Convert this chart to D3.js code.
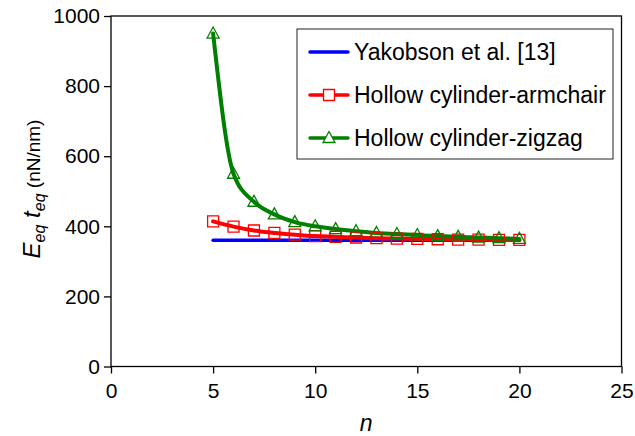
<!DOCTYPE html>
<html>
<head>
<meta charset="utf-8">
<script src="https://cdn.jsdelivr.net/npm/d3@7"></script>
<style>
  body { margin: 0; background: #fff; }
  svg text { font-family: "Liberation Sans", Arial, sans-serif; fill: #000; }
</style>
</head>
<body>
<svg id="chart" width="635" height="436"></svg>
<script>
const nValues = [5, 6, 7, 8, 9, 10, 11, 12, 13, 14, 15, 16, 17, 18, 19, 20];
const yakobson = [360, 360, 360, 360, 360, 360, 360, 360, 360, 360, 360, 360, 360, 360, 360, 360];
const armchair = [414, 399, 388, 381, 376, 372, 370, 368, 366, 365, 364, 363, 362, 362, 361, 361];
const zigzag = [950, 550, 470, 434, 412, 400, 392, 386, 381, 378, 375, 372, 370, 368, 366, 364];
const xTicks = [0, 5, 10, 15, 20, 25];
const yTicks = [0, 200, 400, 600, 800, 1000];
const legendLabels = ["Yakobson et al. [13]", "Hollow cylinder-armchair", "Hollow cylinder-zigzag"];

const svg = d3.select("#chart");
const m = { left: 111, top: 16, right: 621.5, bottom: 366.5 };
const x = d3.scaleLinear().domain([0, 25]).range([m.left, m.right]);
const y = d3.scaleLinear().domain([0, 1000]).range([m.bottom, m.top]);

// frame
svg.append("rect").attr("x", m.left).attr("y", m.top)
    .attr("width", m.right - m.left).attr("height", m.bottom - m.top)
    .attr("fill", "none").attr("stroke", "#000").attr("stroke-width", 1.3);

const xAxis = svg.append("g").attr("transform", `translate(0,${m.bottom})`)
    .call(d3.axisBottom(x).tickValues(xTicks).tickSize(7).tickPadding(10).tickFormat(d3.format("d")));
const yAxis = svg.append("g").attr("transform", `translate(${m.left},0)`)
    .call(d3.axisLeft(y).tickValues(yTicks).tickSize(7).tickPadding(4).tickFormat(d3.format("d")));
[xAxis, yAxis].forEach(a => {
    a.select(".domain").remove();
    a.selectAll("line").attr("stroke", "#000").attr("stroke-width", 1.3);
    a.selectAll("text").style("font-size", "21px").style("font-family", "Liberation Sans, Arial, sans-serif");
});

// axis titles
svg.append("text").attr("x", (m.left + m.right) / 2).attr("y", 431).attr("text-anchor", "middle")
    .style("font-size", "23px").style("font-style", "italic").text("n");

const yl = svg.append("text").attr("transform", "translate(40,189) rotate(-90)").attr("text-anchor", "middle")
    .style("font-size", "24px");
yl.append("tspan").style("font-style", "italic").text("E");
yl.append("tspan").style("font-style", "italic").style("font-size", "16px").attr("dy", 5).text("eq");
yl.append("tspan").style("font-style", "italic").attr("dy", -5).text(" t");
yl.append("tspan").style("font-style", "italic").style("font-size", "16px").attr("dy", 5).text("eq");
yl.append("tspan").style("font-size", "19px").attr("dy", -5).text(" (nN/nm)");

const series = [
    { name: legendLabels[0], values: yakobson, color: "#0000ff", marker: null },
    { name: legendLabels[1], values: armchair, color: "#ff0000", marker: "square" },
    { name: legendLabels[2], values: zigzag, color: "#008000", marker: "triangle" }
];

const line = d3.line().x((d, i) => x(nValues[i])).y(d => y(d)).curve(d3.curveMonotoneX);

const markerPath = (type, cx, cy) => {
    if (type === "square") return `M${cx - 5.5},${cy - 5.5}h11v11h-11Z`;
    return `M${cx},${cy - 6.5}L${cx + 6},${cy + 4.5}L${cx - 6},${cy + 4.5}Z`;
};

series.forEach(s => {
    svg.append("path").datum(s.values).attr("d", line)
        .attr("fill", "none").attr("stroke", s.color).attr("stroke-width", s.marker ? 4 : 3.5)
        .attr("stroke-linecap", "round");
});
series.filter(s => s.marker).forEach(s => {
    svg.append("g").selectAll("path").data(s.values).join("path")
        .attr("d", (d, i) => markerPath(s.marker, x(nValues[i]), y(d)))
        .attr("fill", "none").attr("stroke", s.color).attr("stroke-width", 1.3);
});

// legend
const lg = svg.append("g");
lg.append("rect").attr("x", 297).attr("y", 29).attr("width", 316).attr("height", 130)
    .attr("fill", "#fff").attr("stroke", "#222").attr("stroke-width", 1);
series.forEach((s, i) => {
    const ly = 52 + i * 43;
    lg.append("line").attr("x1", 310).attr("x2", 348).attr("y1", ly).attr("y2", ly)
        .attr("stroke", s.color).attr("stroke-width", 3.5).attr("stroke-linecap", "round");
    if (s.marker) lg.append("path").attr("d", markerPath(s.marker, 329, ly))
        .attr("fill", "#fff").attr("stroke", s.color).attr("stroke-width", 1.3);
    lg.append("text").attr("x", 354).attr("y", ly).attr("dy", "0.36em")
        .style("font-size", "23px").text(s.name);
});
</script>
</body>
</html>
